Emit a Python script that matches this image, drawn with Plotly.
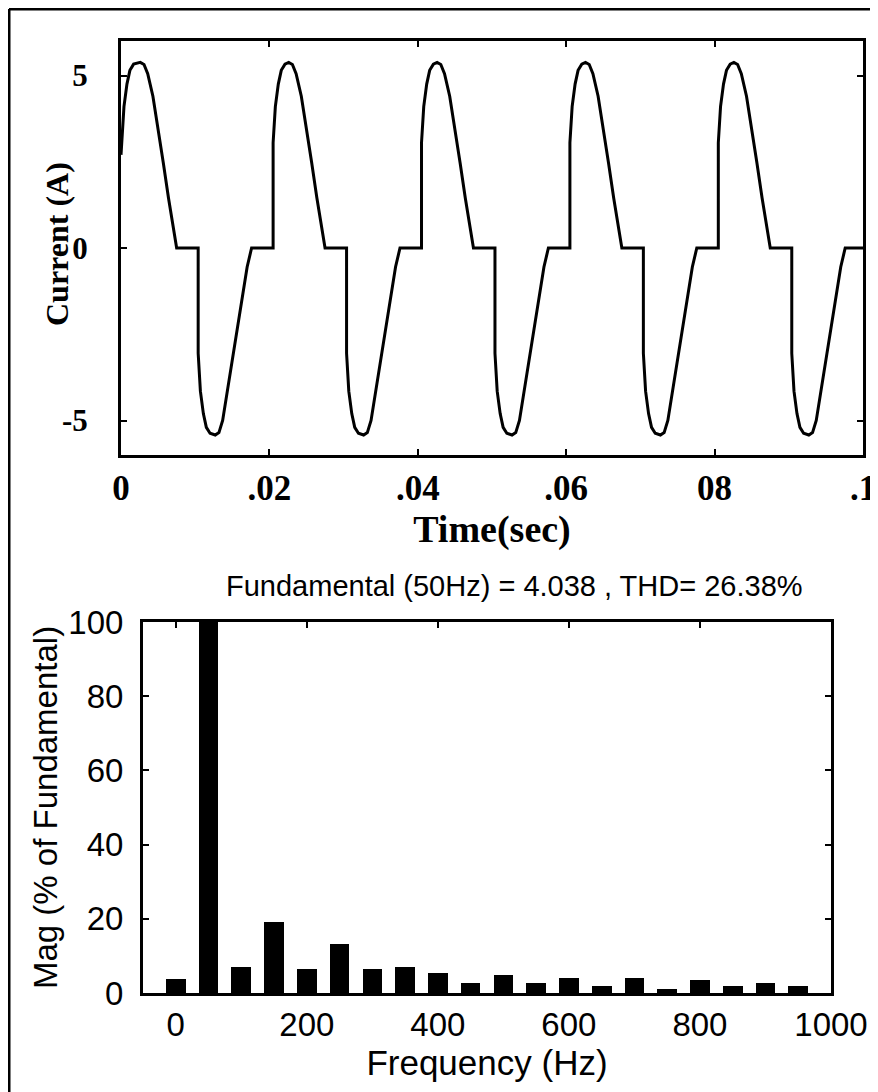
import plotly.graph_objects as go

# ---------------- data ----------------
time_s = [
    0.0000, 0.0004, 0.0008, 0.0012, 0.0017, 0.0026, 0.0031, 0.0036, 0.0043, 0.0050, 0.0057, 0.0064, 0.0071, 0.0075,
    0.0104, 0.0104, 0.0107, 0.0111, 0.0115, 0.0120, 0.0127, 0.0132, 0.0137, 0.0142, 0.0149, 0.0156, 0.0163, 0.0170, 0.0176,
    0.0205, 0.0205, 0.0208, 0.0212, 0.0216, 0.0221, 0.0226, 0.0231, 0.0236, 0.0243, 0.0250, 0.0257, 0.0264, 0.0271, 0.0275,
    0.0304, 0.0304, 0.0307, 0.0311, 0.0315, 0.0320, 0.0327, 0.0332, 0.0337, 0.0342, 0.0349, 0.0356, 0.0363, 0.0370, 0.0376,
    0.0405, 0.0405, 0.0408, 0.0412, 0.0416, 0.0421, 0.0426, 0.0431, 0.0436, 0.0443, 0.0450, 0.0457, 0.0464, 0.0471, 0.0475,
    0.0504, 0.0504, 0.0507, 0.0511, 0.0515, 0.0520, 0.0527, 0.0532, 0.0537, 0.0542, 0.0549, 0.0556, 0.0563, 0.0570, 0.0576,
    0.0605, 0.0605, 0.0608, 0.0612, 0.0616, 0.0621, 0.0626, 0.0631, 0.0636, 0.0643, 0.0650, 0.0657, 0.0664, 0.0671, 0.0675,
    0.0704, 0.0704, 0.0707, 0.0711, 0.0715, 0.0720, 0.0727, 0.0732, 0.0737, 0.0742, 0.0749, 0.0756, 0.0763, 0.0770, 0.0776,
    0.0805, 0.0805, 0.0808, 0.0812, 0.0816, 0.0821, 0.0826, 0.0831, 0.0836, 0.0843, 0.0850, 0.0857, 0.0864, 0.0871, 0.0875,
    0.0904, 0.0904, 0.0907, 0.0911, 0.0915, 0.0920, 0.0927, 0.0932, 0.0937, 0.0942, 0.0949, 0.0956, 0.0963, 0.0970, 0.0976,
    0.1000,
]
current_a = [
    2.70, 4.10, 4.75, 5.15, 5.33, 5.38, 5.32, 5.05, 4.40, 3.50, 2.47, 1.45, 0.52, 0.00,
    0.00, -3.05, -4.15, -4.80, -5.20, -5.37, -5.42, -5.35, -5.00, -4.32, -3.40, -2.35, -1.40, -0.55, 0.00,
    0.00, 3.05, 4.10, 4.75, 5.15, 5.33, 5.38, 5.32, 5.05, 4.40, 3.50, 2.47, 1.45, 0.52, 0.00,
    0.00, -3.05, -4.15, -4.80, -5.20, -5.37, -5.42, -5.35, -5.00, -4.32, -3.40, -2.35, -1.40, -0.55, 0.00,
    0.00, 3.05, 4.10, 4.75, 5.15, 5.33, 5.38, 5.32, 5.05, 4.40, 3.50, 2.47, 1.45, 0.52, 0.00,
    0.00, -3.05, -4.15, -4.80, -5.20, -5.37, -5.42, -5.35, -5.00, -4.32, -3.40, -2.35, -1.40, -0.55, 0.00,
    0.00, 3.05, 4.10, 4.75, 5.15, 5.33, 5.38, 5.32, 5.05, 4.40, 3.50, 2.47, 1.45, 0.52, 0.00,
    0.00, -3.05, -4.15, -4.80, -5.20, -5.37, -5.42, -5.35, -5.00, -4.32, -3.40, -2.35, -1.40, -0.55, 0.00,
    0.00, 3.05, 4.10, 4.75, 5.15, 5.33, 5.38, 5.32, 5.05, 4.40, 3.50, 2.47, 1.45, 0.52, 0.00,
    0.00, -3.05, -4.15, -4.80, -5.20, -5.37, -5.42, -5.35, -5.00, -4.32, -3.40, -2.35, -1.40, -0.55, 0.00,
    0.00,
]

time_ticks = [0, 0.02, 0.04, 0.06, 0.08, 0.1]
time_tick_text = ["0", ".02", ".04", ".06", "08", ".1"]
current_ticks = [-5, 0, 5]
current_tick_text = ["-5", "0", "5"]

freq_hz = [0, 50, 100, 150, 200, 250, 300, 350, 400, 450,
           500, 550, 600, 650, 700, 750, 800, 850, 900, 950]
mag_pct = [3.8, 100.0, 6.9, 19.2, 6.4, 13.1, 6.4, 6.9, 5.5, 2.6,
           4.8, 2.6, 4.1, 1.9, 4.1, 1.0, 3.5, 1.9, 2.6, 1.9]
freq_ticks = [0, 200, 400, 600, 800, 1000]
mag_ticks = [0, 20, 40, 60, 80, 100]

title_text = "Fundamental (50Hz) = 4.038 , THD= 26.38%"

# ---------------- figure ----------------
# The page body has an 8px margin, so the figure starts at (8, 8) in the window.
OFF = 8
W, H = 878 - OFF, 1092 - OFF
SERIF = "Liberation Serif, Times New Roman, serif"
SANS = "Liberation Sans Narrow, Arial Narrow, Liberation Sans, Arial, sans-serif"

def px_x(x):
    return (x - OFF) / W

def px_y(y):
    return 1 - (y - OFF) / H

fig = go.Figure()

fig.add_trace(go.Scatter(
    x=time_s, y=current_a, mode="lines",
    line=dict(color="black", width=3),
    xaxis="x", yaxis="y", showlegend=False, hoverinfo="skip",
))

fig.add_trace(go.Bar(
    x=freq_hz, y=mag_pct, width=30,
    marker=dict(color="black", line=dict(width=0)),
    xaxis="x2", yaxis="y2", showlegend=False,
))

axis_common = dict(
    showgrid=False, zeroline=False, showline=True, linecolor="black",
    linewidth=3, mirror="ticks", ticks="inside", ticklen=6, tickwidth=2,
    tickcolor="black", automargin=False,
)

fig.update_layout(
    template="none",
    width=W, height=H,
    margin=dict(l=0, r=0, t=0, b=0, autoexpand=False),
    paper_bgcolor="white", plot_bgcolor="white",
    bargap=0,
    xaxis=dict(
        domain=[px_x(121), px_x(863)], anchor="y", range=[0, 0.1],
        tickvals=time_ticks, ticktext=time_tick_text,
        tickfont=dict(family=SERIF, size=35, color="black", weight="bold"),
        ticklabelstandoff=0,
        title=dict(text="Time(sec)", standoff=2,
                   font=dict(family=SERIF, size=38, color="black", weight="bold")),
        **axis_common,
    ),
    yaxis=dict(
        domain=[px_y(455), px_y(41)], anchor="x", range=[-6, 6],
        tickvals=current_ticks, ticktext=current_tick_text,
        tickfont=dict(family=SERIF, size=31, color="black", weight="bold"),
        ticklabelstandoff=24,
        **axis_common,
    ),
    xaxis2=dict(
        domain=[px_x(143), px_x(831)], anchor="y2", range=[-50, 1000],
        tickvals=freq_ticks,
        tickfont=dict(family=SANS, size=33, color="black"),
        ticklabelstandoff=0,
        title=dict(text="Frequency (Hz)", standoff=0,
                   font=dict(family=SANS, size=35, color="black")),
        **axis_common,
    ),
    yaxis2=dict(
        domain=[px_y(993), px_y(622)], anchor="x2", range=[0, 100],
        tickvals=mag_ticks,
        tickfont=dict(family=SANS, size=33, color="black"),
        ticklabelstandoff=10,
        **axis_common,
    ),
    annotations=[
        dict(text=title_text, xref="paper", yref="paper",
             x=px_x(514), y=px_y(586), xanchor="center", yanchor="middle",
             showarrow=False,
             font=dict(family=SANS, size=29, color="black")),
        dict(text="Current (A)", xref="paper", yref="paper",
             x=px_x(57), y=px_y(244), xanchor="center", yanchor="middle",
             textangle=-90, showarrow=False,
             font=dict(family=SERIF, size=32, color="black", weight="bold")),
        dict(text="Mag (% of Fundamental)", xref="paper", yref="paper",
             x=px_x(45), y=px_y(808), xanchor="center", yanchor="middle",
             textangle=-90, showarrow=False,
             font=dict(family=SANS, size=33, color="black")),
    ],
    shapes=[
        dict(type="line", xref="paper", yref="paper",
             x0=px_x(9), x1=px_x(9), y0=px_y(9), y1=0,
             line=dict(color="black", width=3)),
        dict(type="line", xref="paper", yref="paper",
             x0=px_x(9), x1=px_x(873), y0=px_y(9), y1=px_y(9),
             line=dict(color="black", width=3)),
        dict(type="line", xref="paper", yref="paper",
             x0=px_x(873), x1=px_x(873), y0=px_y(9), y1=px_y(560),
             line=dict(color="black", width=3)),
    ],
)

fig.write_html("out.html")
